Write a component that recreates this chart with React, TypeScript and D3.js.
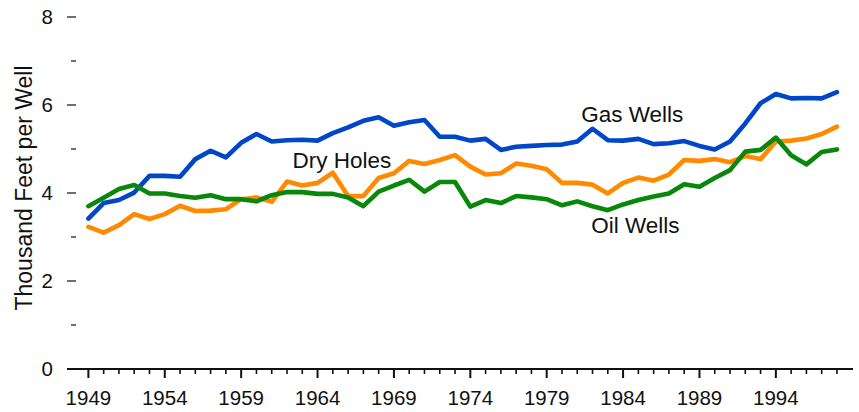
import * as d3 from "d3";

const years: number[] = d3.range(1949, 1999);

const gasWells: number[] = [
  3.42, 3.77, 3.84, 4.01, 4.39, 4.39, 4.37, 4.77, 4.96, 4.81,
  5.14, 5.34, 5.17, 5.2, 5.21, 5.19, 5.36, 5.49, 5.64, 5.72,
  5.53, 5.61, 5.66, 5.28, 5.28, 5.19, 5.23, 4.98, 5.05, 5.07,
  5.09, 5.1, 5.17, 5.46, 5.2, 5.19, 5.23, 5.11, 5.13, 5.18,
  5.07, 4.99, 5.17, 5.58, 6.04, 6.25, 6.15, 6.16, 6.15, 6.29,
];

const dryHoles: number[] = [
  3.23, 3.1, 3.27, 3.52, 3.41, 3.52, 3.71, 3.59, 3.6, 3.63,
  3.86, 3.9, 3.8, 4.26, 4.17, 4.23, 4.46, 3.93, 3.93, 4.34,
  4.45, 4.73, 4.66, 4.75, 4.86, 4.6, 4.42, 4.45, 4.67, 4.62,
  4.54, 4.23, 4.23, 4.19, 3.99, 4.23, 4.35, 4.28, 4.42, 4.75,
  4.73, 4.77, 4.7, 4.84, 4.77, 5.17, 5.19, 5.24, 5.34, 5.51,
];

const oilWells: number[] = [
  3.7, 3.89, 4.09, 4.18, 3.99, 3.99, 3.93, 3.89, 3.95, 3.86,
  3.86, 3.81, 3.95, 4.02, 4.02, 3.98, 3.98, 3.9, 3.7, 4.03,
  4.17, 4.3, 4.03, 4.25, 4.25, 3.69, 3.84, 3.77, 3.93, 3.9,
  3.86, 3.72, 3.81, 3.7, 3.61, 3.74, 3.84, 3.92, 3.99, 4.2,
  4.14, 4.34, 4.52, 4.94, 4.98, 5.26, 4.86, 4.65, 4.93, 4.99,
];

const seriesNames = ["Gas Wells", "Dry Holes", "Oil Wells"];
const seriesColors = ["#0047c8", "#ff8a00", "#08870a"];
// label anchors (year, value) in data space
const labelYears = [1984.6, 1965.6, 1984.8];
const labelValues = [5.62, 4.57, 3.09];

const yMajor = [0, 2, 4, 6, 8];
const yMinor = [1, 3, 5, 7];
const xLabelYears = [1949, 1954, 1959, 1964, 1969, 1974, 1979, 1984, 1989, 1994];

const W = 859;
const H = 412;
const font = "'Liberation Sans', Arial, sans-serif";

const App = () => {
  const x = d3.scaleLinear().domain([1947.6, 1999.05]).range([67, 853]);
  const y = d3.scaleLinear().domain([0, 8]).range([369, 17]);

  const line = d3
    .line<number>()
    .x((_, i) => x(years[i]))
    .y((d) => y(d));

  const allSeries = [gasWells, dryHoles, oilWells];
  const drawOrder = [1, 0, 2];

  return (
    <svg
      width={W}
      height={H}
      style={{ position: "absolute", left: 0, top: 0 }}
      fontFamily={font}
    >
      <rect width={W} height={H} fill="#fff" />

      {/* y axis title */}
      <text
        transform={`translate(32,${188}) rotate(-90)`}
        textAnchor="middle"
        fontSize={23}
        fill="#111"
      >
        Thousand Feet per Well
      </text>

      {/* y ticks */}
      {yMajor.map((v) => (
        <g key={"ym" + v}>
          <line x1={67} x2={76} y1={y(v)} y2={y(v)} stroke="#222" strokeWidth={1.3} />
          <text x={53} y={y(v) + 7} textAnchor="end" fontSize={20.5} fill="#111">
            {v}
          </text>
        </g>
      ))}
      {yMinor.map((v) => (
        <line key={"yn" + v} x1={71} x2={76} y1={y(v)} y2={y(v)} stroke="#222" strokeWidth={1.3} />
      ))}

      {/* x axis */}
      <line x1={x.range()[0]} x2={x.range()[1]} y1={y(0)} y2={y(0)} stroke="#111" strokeWidth={2} />
      {years.map((yr) => {
        const major = (yr - 1949) % 5 === 0;
        return (
          <line
            key={"xt" + yr}
            x1={x(yr)}
            x2={x(yr)}
            y1={y(0)}
            y2={y(0) + (major ? 9 : 5)}
            stroke="#111"
            strokeWidth={major ? 2 : 1.6}
          />
        );
      })}
      {xLabelYears.map((yr) => (
        <text key={"xl" + yr} x={x(yr)} y={405} textAnchor="middle" fontSize={20.5} fill="#111">
          {yr}
        </text>
      ))}

      {/* series */}
      {drawOrder.map((i) => (
        <path
          key={seriesNames[i]}
          d={line(allSeries[i]) ?? ""}
          fill="none"
          stroke={seriesColors[i]}
          strokeWidth={4.6}
          strokeLinejoin="round"
          strokeLinecap="round"
        />
      ))}

      {/* labels */}
      {seriesNames.map((name, i) => (
        <text
          key={"lb" + name}
          x={x(labelYears[i])}
          y={y(labelValues[i])}
          textAnchor="middle"
          fontSize={22.5}
          fill="#111"
        >
          {name}
        </text>
      ))}
    </svg>
  );
};

export default App;
